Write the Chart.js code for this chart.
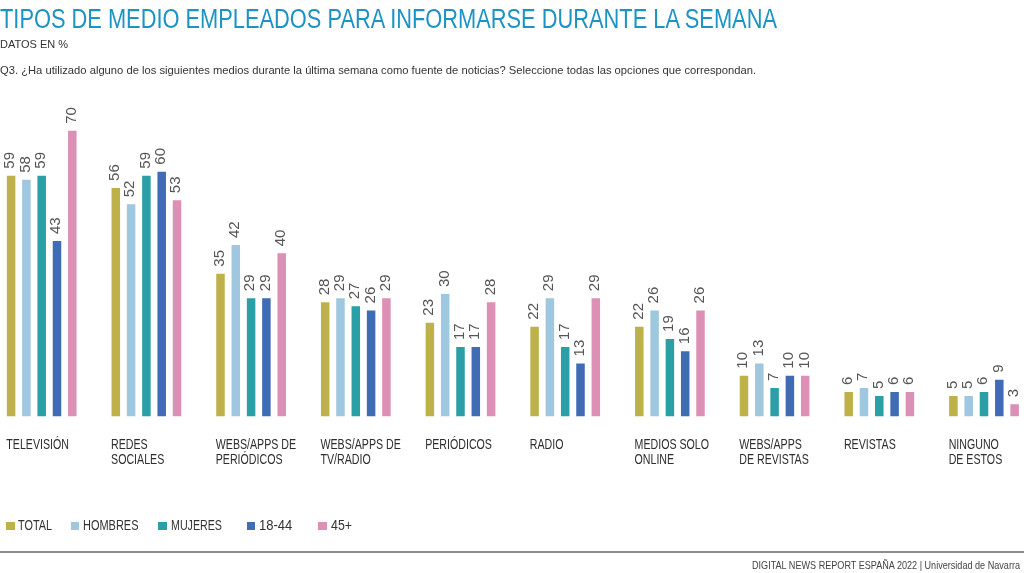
<!DOCTYPE html>
<html lang="es">
<head>
<meta charset="utf-8">
<title>Tipos de medio empleados para informarse durante la semana</title>
<script src="https://cdn.jsdelivr.net/npm/chart.js@4/dist/chart.umd.min.js"></script>
<style>
  html, body { margin: 0; padding: 0; background: #fff; }
  body { width: 1024px; height: 573px; position: relative; overflow: hidden; font-family: "Liberation Sans", Arial, sans-serif; }
  #chart { position: absolute; left: -3px; top: 0; }
  .fit { position: absolute; white-space: nowrap; display: inline-block; transform-origin: 0 0; }
  #title { left: 0; top: 5.5px; font-size: 27px; line-height: 27px; color: #1b93c4; }
  #subtitle { left: 0; top: 39px; font-size: 11px; line-height: 11px; color: #333; }
  #question { left: 0; top: 64.7px; font-size: 11px; line-height: 11px; color: #333; }
  #footer { left: 752px; top: 559.5px; font-size: 10.5px; line-height: 10.5px; color: #444; }
  #rule { position: absolute; left: 0; top: 551px; width: 1024px; height: 2px; background: #8c8c8c; }
  .lbox { position: absolute; width: 8.5px; height: 8.5px; top: 521.7px; }
  .ltext { font-size: 14px; line-height: 14px; color: #333; top: 518px; }
</style>
</head>
<body>
<canvas id="chart" width="1047" height="573"></canvas>
<div id="title" class="fit">TIPOS DE MEDIO EMPLEADOS PARA INFORMARSE DURANTE LA SEMANA</div>
<div id="subtitle" class="fit">DATOS EN %</div>
<div id="question" class="fit">Q3. ¿Ha utilizado alguno de los siguientes medios durante la última semana como fuente de noticias? Seleccione todas las opciones que correspondan.</div>
<div id="legend"></div>
<div id="rule"></div>
<div id="footer" class="fit">DIGITAL NEWS REPORT ESPAÑA 2022 | Universidad de Navarra</div>
<script>
// ---- data ----
const categories = [
  ["TELEVISIÓN"],
  ["REDES", "SOCIALES"],
  ["WEBS/APPS DE", "PERIÓDICOS"],
  ["WEBS/APPS DE", "TV/RADIO"],
  ["PERIÓDICOS"],
  ["RADIO"],
  ["MEDIOS SOLO", "ONLINE"],
  ["WEBS/APPS", "DE REVISTAS"],
  ["REVISTAS"],
  ["NINGUNO", "DE ESTOS"]
];
const seriesNames = ["TOTAL", "HOMBRES", "MUJERES", "18-44", "45+"];
const totalValues   = [59, 56, 35, 28, 23, 22, 22, 10, 6, 5];
const hombresValues = [58, 52, 42, 29, 30, 29, 26, 13, 7, 5];
const mujeresValues = [59, 59, 29, 27, 17, 17, 19, 7, 5, 6];
const age1844Values = [43, 60, 29, 26, 17, 13, 16, 10, 6, 9];
const age45Values   = [70, 53, 40, 29, 28, 29, 26, 10, 6, 3];

// ---- styles ----
const seriesColors = ["#bfb14a", "#9fc7df", "#2b9fa6", "#3f6cb4", "#dc90b5"];
const seriesValues = [totalValues, hombresValues, mujeresValues, age1844Values, age45Values];

// text fitting helper (keeps text real, just condenses horizontally)
function fitWidth(el, target) {
  const w = el.getBoundingClientRect().width;
  if (w > 0) el.style.transform = "scaleX(" + (target / w) + ")";
}

const valueLabels = {
  id: "valueLabels",
  afterDatasetsDraw(chart) {
    const ctx = chart.ctx;
    ctx.save();
    ctx.font = "15px 'Liberation Sans', Arial, sans-serif";
    ctx.fillStyle = "#555";
    ctx.textAlign = "left";
    ctx.textBaseline = "alphabetic";
    for (let d = 0; d < seriesNames.length; d++) {
      const meta = chart.getDatasetMeta(d);
      meta.data.forEach((bar, i) => {
        const v = chart.data.datasets[d].data[i];
        if (v == null) return;
        ctx.save();
        ctx.translate(bar.x + 3.4, bar.y - 7);
        ctx.rotate(-Math.PI / 2);
        ctx.fillText(String(v), 0, 0);
        ctx.restore();
      });
    }
    ctx.restore();
  }
};

const categoryLabels = {
  id: "categoryLabels",
  afterDraw(chart) {
    const ctx = chart.ctx;
    const meta = chart.getDatasetMeta(0);
    ctx.save();
    ctx.font = "14px 'Liberation Sans', Arial, sans-serif";
    ctx.fillStyle = "#2e2e2e";
    ctx.textAlign = "left";
    ctx.textBaseline = "alphabetic";
    const sx = 0.76;
    const y0 = chart.chartArea.bottom + 32.5;
    meta.data.forEach((bar, i) => {
      const left = bar.x - bar.width / 2 - 0.5;
      const lines = chart.data.labels[i];
      lines.forEach((line, k) => {
        ctx.save();
        ctx.translate(left, y0 + k * 15);
        ctx.scale(sx, 1);
        ctx.fillText(line, 0, 0);
        ctx.restore();
      });
    });
    ctx.restore();
  }
};

const datasets = seriesNames.map((name, i) => ({
  label: name,
  data: seriesValues[i],
  backgroundColor: seriesColors[i],
  borderWidth: 0
}));
// empty spacer series so the group sits at the left of each category
datasets.push({ label: "", data: categories.map(() => null), backgroundColor: "rgba(0,0,0,0)" });

const chart = new Chart(document.getElementById("chart"), {
  type: "bar",
  data: { labels: categories, datasets },
  options: {
    responsive: false,
    animation: false,
    layout: { padding: { left: 0, right: 0, top: 90, bottom: 156.5 } },
    datasets: { bar: { categoryPercentage: 0.877, barPercentage: 0.556 } },
    scales: {
      x: { display: false },
      y: { display: false, min: 0, max: 80 }
    },
    plugins: { legend: { display: false }, tooltip: { enabled: false } }
  },
  plugins: [valueLabels, categoryLabels]
});

// HTML legend built from the chart's datasets
const legendBoxX = [6, 70.7, 158.3, 246.7, 318.3];
const legendTextW = [34, 55.5, 51, 33.3, 21];
const legendEl = document.getElementById("legend");
chart.data.datasets.slice(0, seriesNames.length).forEach((ds, i) => {
  const box = document.createElement("div");
  box.className = "lbox";
  box.style.left = legendBoxX[i] + "px";
  box.style.background = ds.backgroundColor;
  legendEl.appendChild(box);
  const t = document.createElement("div");
  t.className = "fit ltext";
  t.style.left = (legendBoxX[i] + 12.2) + "px";
  t.textContent = ds.label;
  legendEl.appendChild(t);
  fitWidth(t, legendTextW[i]);
});

fitWidth(document.getElementById("title"), 777);
fitWidth(document.getElementById("subtitle"), 68);
fitWidth(document.getElementById("question"), 756);
fitWidth(document.getElementById("footer"), 268);
</script>
</body>
</html>
